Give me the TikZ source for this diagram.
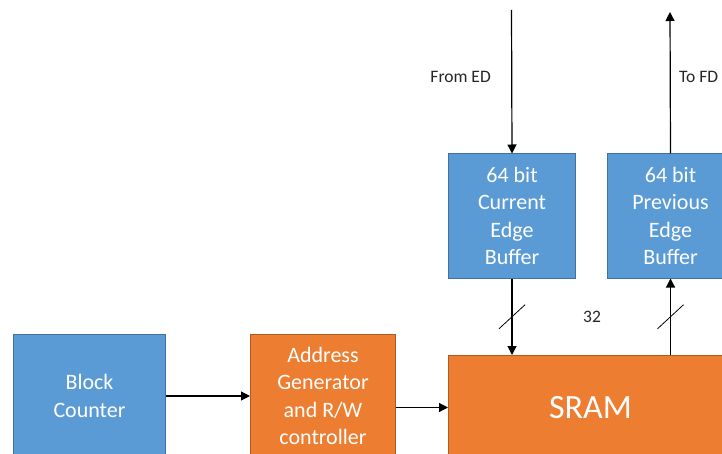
\documentclass[tikz,border=0pt]{standalone}
\usepackage{fontspec}
\setmainfont{Carlito}
\usetikzlibrary{arrows.meta,calc}
\definecolor{bfill}{HTML}{5B9BD5}
\definecolor{bdraw}{HTML}{41719C}
\definecolor{ofill}{HTML}{ED7D31}
\definecolor{odraw}{HTML}{AE5A21}
\definecolor{lbl}{HTML}{262626}
\begin{document}
\begin{tikzpicture}[x=1pt,y=-1pt,
  bluebox/.style={draw=bdraw,fill=bfill,line width=1pt,text=white,align=center,anchor=north west,inner sep=0pt,
    font=\fontsize{22}{27.5}\selectfont},
  orangebox/.style={draw=odraw,fill=ofill,line width=1pt,text=white,align=center,anchor=north west,inner sep=0pt,
    font=\fontsize{22}{27.5}\selectfont},
  arr/.style={line width=1.2pt,-{Triangle[length=9pt,width=9pt]}},
  lab/.style={text=lbl,font=\fontsize{17.5}{20}\selectfont,inner sep=0pt}]
\useasboundingbox (0,0) rectangle (722,454);
\clip (0,0) rectangle (722,454);
\fill[white] (0,0) rectangle (722,454);
\node[bluebox,minimum width=152pt,minimum height=123pt] (bc) at (13,334) {Block\\Counter};
\node[orangebox,minimum width=145pt,minimum height=123pt] (ag) at (250,334) {Address\\Generator\\and R/W\\controller};
\node[orangebox,minimum width=284pt,minimum height=104pt,font=\fontsize{34}{38}\selectfont] (sram) at (448,355) {SRAM};
\node[bluebox,minimum width=127pt,minimum height=124pt] (cur) at (448,153.5) {64 bit\\Current\\Edge\\Buffer};
\node[bluebox,minimum width=126pt,minimum height=124pt] (prev) at (607,153.5) {64 bit\\Previous\\Edge\\Buffer};
\coordinate (edin) at (511.5,10);
\coordinate (fdout) at (670,12);
\draw[arr] (edin) -- (cur.north);
\draw[arr] (prev.north) -- (fdout);
\node[lab,anchor=east] (from) at (491,77) {From ED};
\node[lab,anchor=west] (tofd) at (679,77) {To FD};
\draw[arr] (cur.south) -- (cur.south |- sram.north);
\draw[arr] (prev.south |- sram.north) -- (prev.south);
\coordinate (m1) at ($(cur.south)!0.5!(cur.south |- sram.north)$);
\coordinate (m2) at ($(prev.south)!0.5!(prev.south |- sram.north)$);
\draw[line width=0.8pt] ($(m1)+(-13,12)$) -- ($(m1)+(13,-12)$);
\draw[line width=0.8pt] ($(m2)+(-13,12)$) -- ($(m2)+(13,-12)$);
\node[lab] (w) at (592,317) {32};
\draw[arr] (bc.east) -- (ag.west);
\draw[arr] (ag.east |- sram.west) -- (sram.west);
\end{tikzpicture}
\end{document}
